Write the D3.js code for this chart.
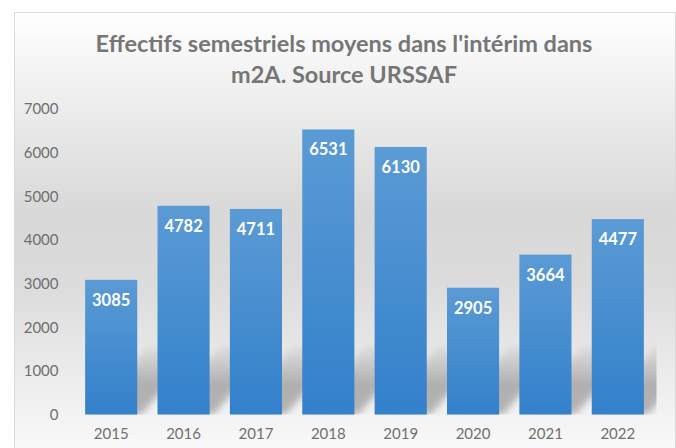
<!DOCTYPE html>
<html><head><meta charset="utf-8">
<script src="https://cdn.jsdelivr.net/npm/d3@7/dist/d3.min.js"></script>
<style>html,body{margin:0;padding:0;background:#fff}</style>
</head><body>
<script>
const years = ["2015","2016","2017","2018","2019","2020","2021","2022"];
const values = [3085, 4782, 4711, 6531, 6130, 2905, 3664, 4477];
const yTicks = [0,1000,2000,3000,4000,5000,6000,7000];
const titleLines = ["Effectifs semestriels moyens dans l'intérim dans", "m2A. Source URSSAF"];

const W = 676, H = 448;
const svg = d3.select("body").append("svg").attr("width", W).attr("height", H);
const defs = svg.append("defs");

const bg = defs.append("linearGradient").attr("id","bg").attr("x1",0).attr("y1",0).attr("x2",0).attr("y2",1);
[[0,"#ffffff"],[0.1,"#f6f6f6"],[0.45,"#d8d8d8"],[0.6,"#dbdbdb"],[0.88,"#f1f1f1"],[1,"#fbfbfb"]]
  .forEach(([o,c]) => bg.append("stop").attr("offset",o).attr("stop-color",c));

const bar = defs.append("linearGradient").attr("id","bar").attr("x1",0).attr("y1",0).attr("x2",0).attr("y2",1);
bar.append("stop").attr("offset",0).attr("stop-color","#5b9bd5");
bar.append("stop").attr("offset",1).attr("stop-color","#3380cb");

const blur = defs.append("filter").attr("id","blur").attr("x","-50%").attr("y","-50%").attr("width","200%").attr("height","200%");
blur.append("feGaussianBlur").attr("stdDeviation",3.5);

const fade = defs.append("linearGradient").attr("id","fade").attr("x1",0).attr("y1",0).attr("x2",0).attr("y2",1);
fade.append("stop").attr("offset",0).attr("stop-color","#fff").attr("stop-opacity",0);
fade.append("stop").attr("offset",0.6).attr("stop-color","#fff").attr("stop-opacity",1);
fade.append("stop").attr("offset",1).attr("stop-color","#fff").attr("stop-opacity",1);

// chart area
svg.append("rect").attr("x",14.5).attr("y",12.5).attr("width",W-15).attr("height",H)
  .attr("fill","url(#bg)").attr("stroke","#d9d9d9").attr("stroke-width",1);

const x = d3.scaleBand().domain(years).range([75, 654]).paddingInner(0.28).paddingOuter(0.14);
const y = d3.scaleLinear().domain([0,7000]).range([414.5, 109]);

const FONT = "Lato, 'Open Sans', sans-serif";

// title
svg.append("g").selectAll("text").data(titleLines).join("text")
  .attr("x", (W+14)/2 - 1).attr("y",(d,i)=>51.5+i*31)
  .attr("text-anchor","middle")
  .attr("font-family",FONT).attr("font-weight","bold")
  .attr("font-size",23.5).attr("fill","#767676").text(d=>d);

// y axis labels
const yAxis = svg.append("g").attr("transform","translate(58.5,0)")
  .call(d3.axisLeft(y).tickValues(yTicks).tickSize(0).tickPadding(0).tickFormat(d3.format("d")));
yAxis.select(".domain").remove();
yAxis.selectAll("text").attr("font-family",FONT).attr("font-size",15).attr("fill","#6f6f6f");

// x axis labels
const xAxis = svg.append("g").attr("transform","translate(0,"+y(0)+")")
  .call(d3.axisBottom(x).tickSize(0).tickPadding(14));
xAxis.select(".domain").remove();
xAxis.selectAll("text").attr("font-family",FONT).attr("font-size",15).attr("fill","#6f6f6f");

// shadows
defs.append("clipPath").attr("id","plotclip").append("rect").attr("x",60).attr("y",100).attr("width",596.5).attr("height",y(0)-100+1);
const mask = defs.append("mask").attr("id","shmask");
mask.append("rect").attr("x",0).attr("y",y(0)-75).attr("width",W).attr("height",75).attr("fill","url(#fade)");
const sh = svg.append("g").attr("clip-path","url(#plotclip)").append("g").attr("mask","url(#shmask)");
sh.selectAll("path").data(years).join("path")
  .attr("d", d => {
    const x0 = x(d)+4, x1 = x(d)+x.bandwidth()+4, b = y(0), dx = 60, dy = 70;
    return `M${x0},${b} L${x1},${b} L${x1+dx},${b-dy} L${x0+dx},${b-dy} Z`;
  })
  .attr("fill","#888").attr("opacity",0.6).attr("filter","url(#blur)");

// bars
svg.append("g").selectAll("rect").data(values).join("rect")
  .attr("x",(d,i)=>x(years[i])).attr("width",x.bandwidth())
  .attr("y",d=>y(d)).attr("height",d=>y(0)-y(d))
  .attr("fill","url(#bar)");

// value labels
svg.append("g").selectAll("text").data(values).join("text")
  .attr("x",(d,i)=>x(years[i])+x.bandwidth()/2).attr("y",d=>y(d)+26)
  .attr("text-anchor","middle")
  .attr("font-family",FONT).attr("font-weight","bold")
  .attr("font-size",16.5).attr("fill","#ffffff").text(d=>d);
</script>
</body></html>
